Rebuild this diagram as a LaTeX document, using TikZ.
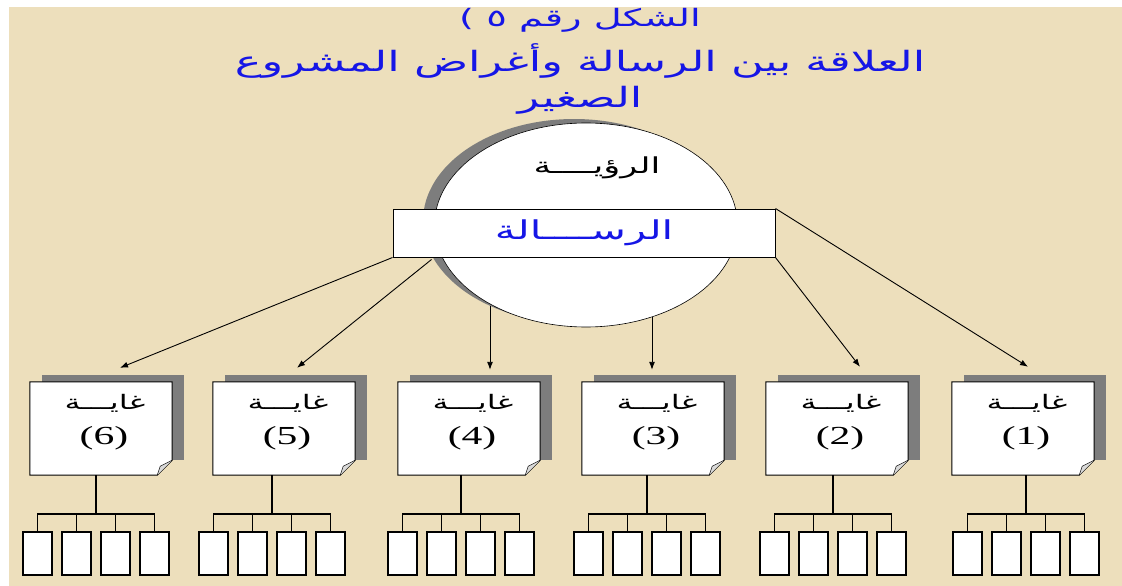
\documentclass[tikz,border=0pt]{standalone}
\usepackage{fontspec}
\usepackage{xcolor}
\usetikzlibrary{arrows.meta,calc,positioning,shapes.geometric}
\TeXXeTstate=1
\newfontfamily\arabicfont[Script=Arabic,FakeStretch=1.6]{DejaVu Sans}
\newfontfamily\numfont[FakeStretch=1.6]{Liberation Serif}
\definecolor{parchment}{RGB}{237,223,188}
\definecolor{titleblue}{RGB}{22,22,230}
\definecolor{shadowgray}{RGB}{125,125,125}
\tikzset{
  titletext/.style={text=titleblue,inner sep=0pt},
  goalbox/.style={rectangle,minimum width=142pt,minimum height=93pt,inner sep=0pt},
  subbox/.style={rectangle,draw=black,fill=white,line width=1.2pt,minimum width=29pt,minimum height=43pt,inner sep=0pt},
  link/.style={line width=0.9pt,-{Latex[length=8pt,width=6pt]}},
  tree/.style={line width=1.1pt}
}

\begin{document}
\begin{tikzpicture}[x=1pt,y=-1pt]
  % page and background
  \fill[white] (0,0) rectangle (1122,586);
  \fill[parchment] (9,7) rectangle (1122,586);
  \useasboundingbox (0,0) rectangle (1122,586);

  % title
  \node[titletext] (title1) at (580,20) {\arabicfont\fontsize{24}{28}\selectfont ) \beginR الشكل رقم ٥\endR};
  \node[titletext] (title2) at (580,61) {\arabicfont\fontsize{28}{32}\selectfont\beginR العلاقة بين الرسالة وأغراض المشروع\endR};
  \node[titletext] (title3) at (580,100) {\arabicfont\fontsize{28}{32}\selectfont\beginR الصغير\endR};

  % vision and mission
  \fill[shadowgray] (574,221) ellipse (151 and 102);
  \node[ellipse,draw=black,fill=white,line width=0.6pt,minimum width=303pt,minimum height=204pt] (vision) at (586,225) {};
  \node (visionlabel) at (597,168) {\arabicfont\fontsize{22}{26}\selectfont\beginR الرؤيــــة\endR};
  \node[rectangle,draw=black,fill=white,line width=1pt,minimum width=382pt,minimum height=48pt,text=titleblue] (mission) at (584,233)
    {\arabicfont\fontsize{26}{30}\selectfont\beginR الرســــالة\endR};

  % goals with their sub-objectives
  \foreach \i/\bx/\gx in {6/101/96,5/284/272,4/469/461,3/653/647,2/837/833,1/1023/1026}{
    \node[goalbox] (goal\i) at (\bx,428.5) {};
    \fill[shadowgray] ($(goal\i.north west)+(12,-7)$) rectangle ($(goal\i.south east)+(12,-15)$);
    \filldraw[fill=white,draw=black,line width=1pt] (goal\i.north west) -- (goal\i.north east)
      -- ($(goal\i.south east)+(0,-15)$) -- ($(goal\i.south east)+(-15,0)$) -- (goal\i.south west) -- cycle;
    \filldraw[fill=white!85!black,draw=black,line width=0.5pt] ($(goal\i.south east)+(0,-15)$)
      -- ($(goal\i.south east)+(-12,-9)$) -- ($(goal\i.south east)+(-15,0)$);
    \node (goalname\i) at ($(goal\i.north)+(4,22)$) {\arabicfont\fontsize{20}{24}\selectfont\beginR غايـــة\endR};
    \node (goalnum\i) at ($(goal\i.north)+(3,56)$) {\numfont\fontsize{26}{30}\selectfont (\i)};
    \coordinate (hub\i) at (\gx,514);
    \foreach \j/\dx in {1/-58.5,2/-19.5,3/19.5,4/58.5}
      \node[subbox] (sub\i-\j) at ($(hub\i)+(\dx,39.5)$) {};
    \draw[tree] (goal\i.south -| hub\i) -- (hub\i);
    \draw[tree] (sub\i-1.north) |- (sub\i-4.north |- hub\i) -- (sub\i-4.north);
    \draw[tree] (sub\i-2.north) -- (sub\i-2.north |- hub\i);
    \draw[tree] (sub\i-3.north) -- (sub\i-3.north |- hub\i);
  }

  % links from the mission to the goals
  \draw[link] (mission.south west) -- ($(goal6.north)+(19,-14)$);
  \draw[link] ($(mission.south west)+(39,2)$) -- ($(goal5.north)+(13,-14)$);
  \draw[link] ($(vision.center)+(-96,81)$) -- ($(goal4.north)+(21,-12)$);
  \draw[link] ($(vision.center)+(66,92)$) -- ($(goal3.north)+(-1,-12)$);
  \draw[link] (mission.south east) -- ($(goal2.north)+(23,-15)$);
  \draw[link] (mission.north east) -- ($(goal1.north)+(5,-15)$);
\end{tikzpicture}
\end{document}
